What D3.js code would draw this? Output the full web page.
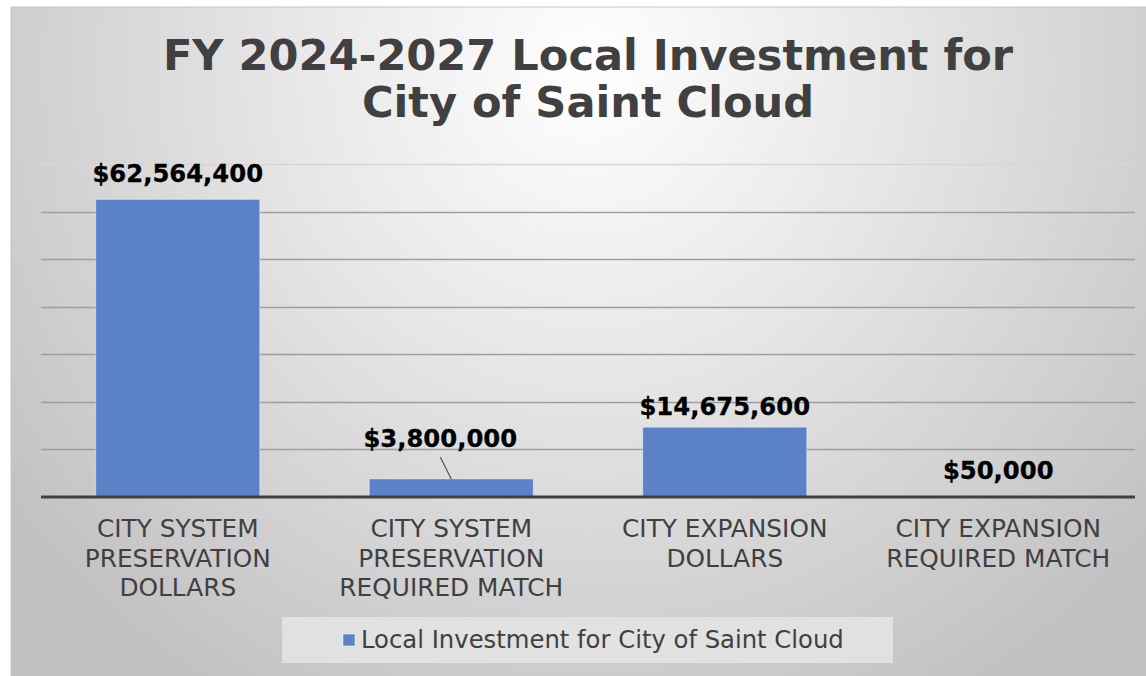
<!DOCTYPE html>
<html><head><meta charset="utf-8">
<script src="https://cdn.jsdelivr.net/npm/d3@7"></script>
<style>html,body{margin:0;padding:0;background:#fff;}svg{display:block;}</style>
</head><body>
<svg id="chart" width="1146" height="676"></svg>
<script>
const categories = ["CITY SYSTEM PRESERVATION DOLLARS","CITY SYSTEM PRESERVATION REQUIRED MATCH","CITY EXPANSION DOLLARS","CITY EXPANSION REQUIRED MATCH"];
const categoryLines = [["CITY SYSTEM","PRESERVATION","DOLLARS"],["CITY SYSTEM","PRESERVATION","REQUIRED MATCH"],["CITY EXPANSION","DOLLARS"],["CITY EXPANSION","REQUIRED MATCH"]];
const values = [62564400, 3800000, 14675600, 50000];
const seriesName = "Local Investment for City of Saint Cloud";
const titleLines = ["FY 2024-2027 Local Investment for","City of Saint Cloud"];
const gridTicks = [10000000,20000000,30000000,40000000,50000000,60000000,70000000];

// layout
const labelDx = [0, -11, 0, 0];
const labelDy = [-17, -32, -12.5, -18];

const svg = d3.select("#chart");
const W = 1146, H = 676;
const defs = svg.append("defs");
const g = defs.append("radialGradient").attr("id","bg").attr("gradientUnits","userSpaceOnUse")
  .attr("cx",590).attr("cy",70).attr("r",720);
g.append("stop").attr("offset","0").attr("stop-color","#ffffff");
g.append("stop").attr("offset","0.4").attr("stop-color","#e8e8e8");
g.append("stop").attr("offset","1").attr("stop-color","#c2c2c2");

svg.append("rect").attr("x",11).attr("y",7).attr("width",W).attr("height",H)
  .attr("fill","url(#bg)").attr("stroke","#c6c6c6").attr("stroke-width",1);

const x = d3.scaleBand().domain(categories).range([41,1135]).paddingInner(0.4).paddingOuter(0.2);
const y = d3.scaleLinear().domain([0,70000000]).range([497,164]);

// gridlines
svg.append("g").selectAll("line").data(gridTicks).join("line")
  .attr("x1",41).attr("x2",1135)
  .attr("y1",d=>Math.round(y(d))+0.5).attr("y2",d=>Math.round(y(d))+0.5)
  .attr("stroke",d=>d===70000000?"#d6d6d6":"#9e9e9e").attr("stroke-width",1.5);

// bars
svg.append("g").selectAll("rect").data(values).join("rect")
  .attr("x",(d,i)=>x(categories[i]))
  .attr("y",d=>y(d))
  .attr("width",x.bandwidth())
  .attr("height",d=>y(0)-y(d))
  .attr("fill","#5b81c8")
  .attr("stroke","rgba(255,255,255,0.45)").attr("stroke-width",1);

// axis baseline
svg.append("line").attr("x1",41).attr("x2",1135).attr("y1",y(0)).attr("y2",y(0))
  .attr("stroke","#404040").attr("stroke-width",3);

// leader line for bar 2
{
  const i = 1;
  const cx = x(categories[i]) + x.bandwidth()/2;
  svg.append("line")
    .attr("x1",cx+labelDx[i]).attr("y1",y(values[i])+labelDy[i]+10)
    .attr("x2",cx).attr("y2",y(values[i]))
    .attr("stroke","#595959").attr("stroke-width",1.2);
}

// data labels
const fmt = d3.format("$,");
svg.append("g").selectAll("text").data(values).join("text")
  .attr("x",(d,i)=>x(categories[i])+x.bandwidth()/2+labelDx[i])
  .attr("y",(d,i)=>y(d)+labelDy[i])
  .attr("text-anchor","middle")
  .attr("font-family","DejaVu Sans, Verdana, sans-serif")
  .attr("font-weight","bold").attr("font-size",24.3).attr("fill","#000")
  .attr("stroke","#000").attr("stroke-width",0.3)
  .text(d=>fmt(d));

// category labels
const cat = svg.append("g");
categoryLines.forEach((lines,i)=>{
  const t = cat.append("text")
    .attr("x",x(categories[i])+x.bandwidth()/2)
    .attr("y",537).attr("text-anchor","middle")
    .attr("font-family","DejaVu Sans, Verdana, sans-serif")
    .attr("font-size",24.8).attr("fill","#404040");
  lines.forEach((l,j)=>t.append("tspan").attr("x",x(categories[i])+x.bandwidth()/2).attr("y",537+j*29.5).text(l));
});

// title
const title = svg.append("text").attr("text-anchor","middle")
  .attr("font-family","DejaVu Sans, Verdana, sans-serif").attr("font-weight","bold")
  .attr("font-size",43.1).attr("fill","#404040");
titleLines.forEach((l,j)=>title.append("tspan").attr("x",588).attr("y",70+j*46.5).text(l));

// legend
svg.append("rect").attr("x",282).attr("y",617).attr("width",611).attr("height",46)
  .attr("fill","#e3e3e3").attr("opacity",0.9);
svg.append("rect").attr("x",343).attr("y",634).attr("width",12).attr("height",12)
  .attr("fill","#5b81c8").attr("stroke","rgba(255,255,255,0.5)");
svg.append("text").attr("x",361).attr("y",648)
  .attr("font-family","DejaVu Sans, Verdana, sans-serif").attr("font-size",24.3).attr("fill","#404040")
  .text(seriesName);
</script>
</body></html>
